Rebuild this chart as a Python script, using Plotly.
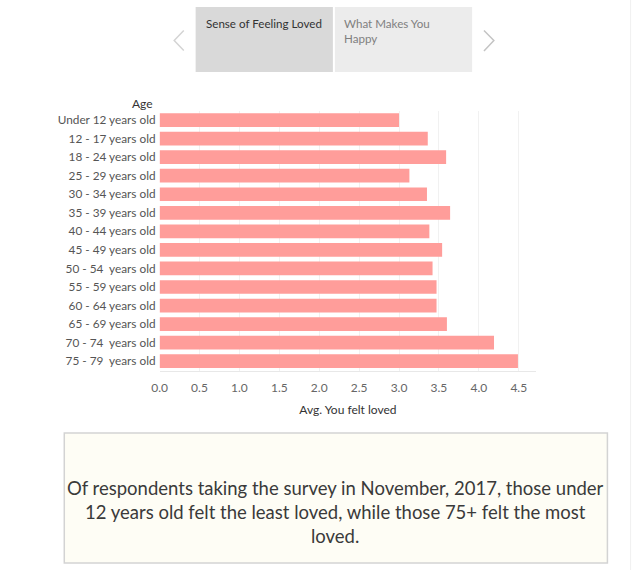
import plotly.graph_objects as go

W, H = 640, 570

age_groups = [
    "Under 12 years old", "12 - 17 years old", "18 - 24 years old",
    "25 - 29 years old", "30 - 34 years old", "35 - 39 years old",
    "40 - 44 years old", "45 - 49 years old", "50 - 54  years old",
    "55 - 59 years old", "60 - 64 years old", "65 - 69 years old",
    "70 - 74  years old", "75 - 79  years old",
]
avg_felt_loved = [3.00, 3.36, 3.59, 3.13, 3.35, 3.64, 3.38, 3.54, 3.42,
                  3.47, 3.47, 3.60, 4.19, 4.49]
x_ticks = [0.0, 0.5, 1.0, 1.5, 2.0, 2.5, 3.0, 3.5, 4.0, 4.5]
tab_labels = ["Sense of Feeling Loved", "What Makes You<br>Happy"]
caption = ("Of respondents taking the survey in November, 2017, those under<br>"
           "12 years old felt the least loved, while those 75+ felt the most<br>"
           "loved.")

FONT = "Lato"


def px(x):
    return x / W


def py(y):
    return 1 - y / H


fig = go.Figure()
fig.add_trace(go.Bar(
    x=avg_felt_loved, y=age_groups, orientation="h",
    marker=dict(color="#ff9d9a", line=dict(width=0)),
    hoverinfo="x+y",
))

fig.update_layout(
    width=W, height=H,
    margin=dict(l=0, r=0, t=0, b=0),
    paper_bgcolor="white", plot_bgcolor="white",
    showlegend=False,
    bargap=0.26,
    font=dict(family=FONT, size=11, color="#555555"),
    xaxis=dict(
        domain=[px(153.5), px(535)],
        range=[0, 4.72],
        tickvals=x_ticks,
        ticktext=[f"{v:.1f}" for v in x_ticks],
        showgrid=True, gridcolor="#f1f1f1", gridwidth=1,
        zeroline=False,
        showline=True, linecolor="#e8e8e8", linewidth=1,
        ticks="", ticklabelstandoff=6,
        tickfont=dict(family=FONT, size=12, color="#666666"),
        title=dict(text="Avg. You felt loved",
                   font=dict(family=FONT, size=12, color="#333333"),
                   standoff=11),
    ),
    yaxis=dict(
        domain=[py(370.5), py(110.75)],
        categoryorder="array", categoryarray=age_groups,
        autorange="reversed",
        showgrid=False, zeroline=False, showline=False,
        ticks="", ticklabelstandoff=3,
        tickfont=dict(family=FONT, size=11.8, color="#555555"),
    ),
)

shapes = []
annotations = []

# Tabs
shapes.append(dict(type="rect", xref="paper", yref="paper",
                   x0=px(190), x1=px(329), y0=py(72), y1=py(7),
                   fillcolor="#d9d9d9", line=dict(width=0), layer="below"))
shapes.append(dict(type="rect", xref="paper", yref="paper",
                   x0=px(331), x1=px(470), y0=py(72), y1=py(7),
                   fillcolor="#ececec", line=dict(width=0), layer="below"))
annotations.append(dict(text=tab_labels[0], xref="paper", yref="paper",
                        x=px(198), y=py(15), xanchor="left", yanchor="top",
                        align="left", showarrow=False,
                        font=dict(family=FONT, size=11.6, color="#333333")))
annotations.append(dict(text=tab_labels[1], xref="paper", yref="paper",
                        x=px(338), y=py(15), xanchor="left", yanchor="top",
                        align="left", showarrow=False,
                        font=dict(family=FONT, size=11.6, color="#808080")))

# Arrows
def path(points):
    return "M " + " L ".join(f"{px(x)},{py(y)}" for x, y in points)

shapes.append(dict(type="path", xref="paper", yref="paper",
                   path=path([(178, 30.5), (168.3, 40.5), (178, 50.5)]),
                   line=dict(color="#d4d4d4", width=1.5)))
shapes.append(dict(type="path", xref="paper", yref="paper",
                   path=path([(482, 30.5), (492, 40.5), (482, 51)]),
                   line=dict(color="#c4c4c4", width=1.5)))

# Age header
annotations.append(dict(text="Age", xref="paper", yref="paper",
                        x=px(149), y=py(103), xanchor="right", yanchor="middle",
                        showarrow=False,
                        font=dict(family=FONT, size=12, color="#333333")))

# Caption box
shapes.append(dict(type="rect", xref="paper", yref="paper",
                   x0=px(57), x1=px(607), y0=py(563), y1=py(433),
                   fillcolor="#fefdf5", line=dict(color="#d3d3d3", width=1.5),
                   layer="below"))
annotations.append(dict(text=caption, xref="paper", yref="paper",
                        x=px(332), y=py(512), xanchor="center", yanchor="middle",
                        align="center", showarrow=False,
                        font=dict(family=FONT, size=18.5, color="#3a3a3a")))

# Right divider
shapes.append(dict(type="line", xref="paper", yref="paper",
                   x0=px(630.5), x1=px(630.5), y0=0, y1=1,
                   line=dict(color="#f0f0f0", width=1)))

fig.update_layout(shapes=shapes, annotations=annotations)

fig.write_html("out.html", config={"displayModeBar": False},
               post_script="document.body.style.margin='0';"
                           "document.body.style.overflow='hidden';")
